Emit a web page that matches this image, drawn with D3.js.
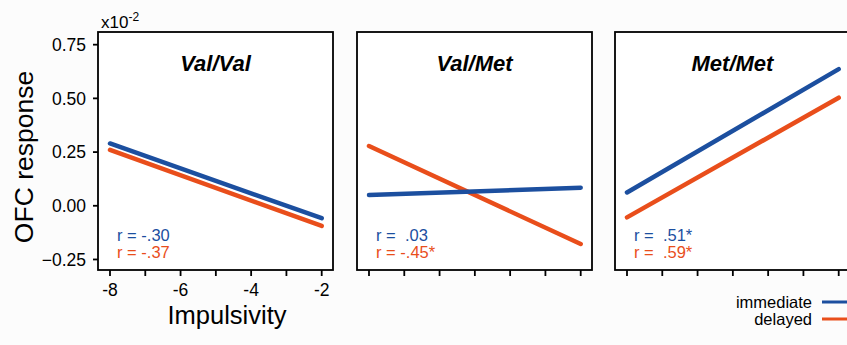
<!DOCTYPE html>
<html>
<head>
<meta charset="utf-8">
<script src="https://cdn.jsdelivr.net/npm/d3@7"></script>
<style>
  body { margin: 0; background: #fcfcfc; }
  text { font-family: "Liberation Sans", Arial, sans-serif; }
</style>
</head>
<body>
<script>
// dati
var panels = ["Val/Val", "Val/Met", "Met/Met"];
var xStart = -8, xEnd = -2;
var immediateStart = [0.29, 0.05, 0.062];
var immediateEnd = [-0.058, 0.084, 0.636];
var delayedStart = [0.26, 0.278, -0.054];
var delayedEnd = [-0.094, -0.178, 0.503];
var rImmediate = ["r = -.30", "r =  .03", "r =  .51*"];
var rDelayed = ["r = -.37", "r = -.45*", "r =  .59*"];
var yTicks = [-0.25, 0, 0.25, 0.5, 0.75];
var xTicks = [-8, -7, -6, -5, -4, -3, -2];
var xLabels = [-8, -6, -4, -2];

var blue = "#1c4f9f", red = "#e94e1b";

var svg = d3.select("body").append("svg")
    .attr("width", 847)
    .attr("height", 345);

var panelLeft = [98, 357, 615];
var boxTop = 32, boxW = 235, boxH = 238;

var x = d3.scaleLinear().domain([-8.34, -1.68]).range([0, boxW]);
var y = d3.scaleLinear().domain([-0.299, 0.809]).range([boxH, 0]);

panels.forEach(function (name, i) {
  var g = svg.append("g").attr("transform", "translate(" + panelLeft[i] + "," + boxTop + ")");

  g.append("rect")
    .attr("width", boxW).attr("height", boxH)
    .attr("fill", "white").attr("stroke", "black").attr("stroke-width", 1.8);

  // tacche asse x
  g.selectAll(".xt").data(xTicks).enter().append("line")
    .attr("x1", d => x(d)).attr("x2", d => x(d))
    .attr("y1", boxH).attr("y2", boxH + 6)
    .attr("stroke", "black").attr("stroke-width", 1.8);

  g.append("text")
    .attr("x", boxW / 2).attr("y", 39)
    .attr("text-anchor", "middle")
    .style("font-size", "22px").style("font-weight", "bold").style("font-style", "italic")
    .text(name);

  // rette di regressione
  var series = [
    { s: delayedStart[i], e: delayedEnd[i], c: red },
    { s: immediateStart[i], e: immediateEnd[i], c: blue }
  ];
  if (i == 0) series.reverse(); // nel primo pannello il rosso sta sotto
  series.forEach(function (d) {
    g.append("line")
      .attr("x1", x(xStart)).attr("y1", y(d.s))
      .attr("x2", x(xEnd)).attr("y2", y(d.e))
      .attr("stroke", d.c).attr("stroke-width", 4.5)
      .attr("stroke-linecap", "round");
  });

  g.append("text")
    .attr("x", 19).attr("y", 209)
    .style("font-size", "16.5px").style("white-space", "pre")
    .attr("fill", blue).text(rImmediate[i]);
  g.append("text")
    .attr("x", 19).attr("y", 225.5)
    .style("font-size", "16.5px").style("white-space", "pre")
    .attr("fill", red).text(rDelayed[i]);

  if (i == 0) {
    g.selectAll(".yt").data(yTicks).enter().append("line")
      .attr("x1", -5).attr("x2", 0)
      .attr("y1", d => y(d)).attr("y2", d => y(d))
      .attr("stroke", "black").attr("stroke-width", 1.8);
    g.selectAll(".yl").data(yTicks).enter().append("text")
      .attr("x", -12).attr("y", d => y(d))
      .attr("dy", "0.36em").attr("text-anchor", "end")
      .style("font-size", "17.5px")
      .text(d => d3.format(".2f")(d));
    g.selectAll(".xl").data(xLabels).enter().append("text")
      .attr("x", d => x(d)).attr("y", boxH + 26)
      .attr("text-anchor", "middle")
      .style("font-size", "17.5px")
      .text(d => d);
  }
});

// esponente
var ex = svg.append("text").attr("x", 101).attr("y", 28).style("font-size", "17px");
ex.append("tspan").text("x10");
ex.append("tspan").attr("dy", -7).style("font-size", "12px").text("-2");

svg.append("text")
  .attr("transform", "translate(33,157) rotate(-90)")
  .attr("text-anchor", "middle")
  .style("font-size", "26.5px")
  .text("OFC response");

svg.append("text")
  .attr("x", 227).attr("y", 324)
  .attr("text-anchor", "middle")
  .style("font-size", "25.5px")
  .text("Impulsivity");

// legenda
var legend = [["immediate", blue], ["delayed", red]];
legend.forEach(function (d, k) {
  var ly = 302 + k * 17;
  svg.append("text")
    .attr("x", 812).attr("y", ly).attr("dy", "0.35em")
    .attr("text-anchor", "end").style("font-size", "16.5px")
    .text(d[0]);
  svg.append("line")
    .attr("x1", 822).attr("x2", 850).attr("y1", ly).attr("y2", ly)
    .attr("stroke", d[1]).attr("stroke-width", 3);
});
</script>
</body>
</html>
